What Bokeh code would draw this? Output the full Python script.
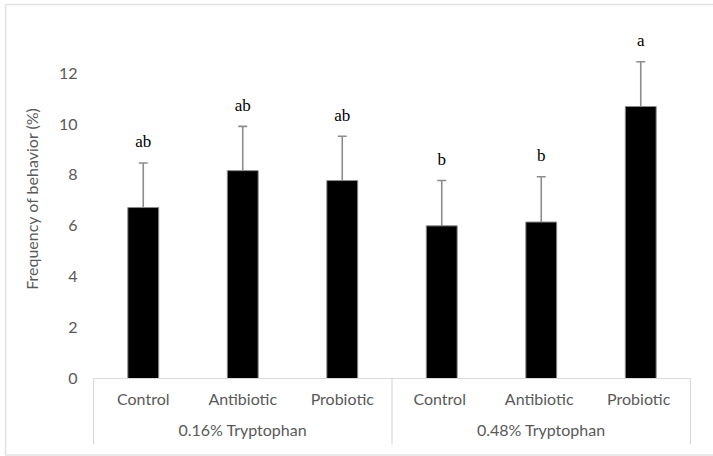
from bokeh.plotting import figure
from bokeh.models import (FactorRange, CategoricalAxis, FixedTicker, Whisker, TeeHead,
                          ColumnDataSource, Range1d)
from bokeh.core.properties import value
from bokeh.embed import file_html
from bokeh.resources import INLINE

# ---- data ----
groups = ["0.16% Tryptophan", "0.48% Tryptophan"]
treatments = ["Control", "Antibiotic", "Probiotic"]
means = [6.72, 8.17, 7.78, 6.00, 6.15, 10.69]
sds = [1.75, 1.74, 1.74, 1.78, 1.78, 1.76]
letters = ["ab", "ab", "ab", "b", "b", "a"]
y_ticks = [0, 2, 4, 6, 8, 10, 12]

# unique factor ids (second group padded with a trailing space)
factors = [t + (" " * gi) for gi, _ in enumerate(groups) for t in treatments]

GRAY_TXT = "#595959"
GRAY_LINE = "#d9d9d9"
FONT = "Lato"

# ---- layout (pixels) ----
W, H = 713, 456
B_LEFT, B_RIGHT, B_TOP, B_BOTTOM = 93, 23, 18, 78
Y_END = 14.15

src = ColumnDataSource(dict(
    x=factors,
    top=means,
    upper=[m + s for m, s in zip(means, sds)],
    label_y=[m + s + 0.83 for m, s in zip(means, sds)],
    letter=letters,
))

p = figure(width=W, height=H, output_backend="svg", toolbar_location=None,
           x_range=FactorRange(factors=factors, range_padding=0, factor_padding=0),
           y_range=Range1d(0, Y_END),
           min_border_left=B_LEFT, min_border_right=B_RIGHT,
           min_border_top=B_TOP, min_border_bottom=B_BOTTOM)
p.extra_x_ranges = {"grp": FactorRange(factors=groups, range_padding=0, factor_padding=0)}

p.outline_line_color = None
p.xgrid.visible = False
p.ygrid.visible = False
p.background_fill_color = "white"
p.border_fill_color = "white"

# pixel -> data helpers for decorations outside the plot frame
n = len(factors)
frame_w = W - B_LEFT - B_RIGHT
frame_h = H - B_TOP - B_BOTTOM
px_x = frame_w / n
px_y = frame_h / Y_END
def dx(px):
    return (px - B_LEFT) / px_x
def dy(py):
    return (H - B_BOTTOM - py) / px_y

# chart-area border (light gray; right edge lies beyond the window)
border = p.quad(left=[dx(5)], right=[dx(716)], top=[dy(4)], bottom=[dy(454.5)],
                fill_color=None, line_color="#e2e2e2", line_width=1.5)
border.level = "overlay"

# bars
p.vbar(x="x", top="top", width=0.31, source=src, fill_color="black",
       line_color="#8a8a8a", line_width=1)

# error bars (upper only)
p.add_layout(Whisker(base="x", lower="top", upper="upper", source=src,
                     line_color="#8c8c8c", line_width=1.6,
                     upper_head=TeeHead(size=9, line_color="#8c8c8c", line_width=1.6),
                     lower_head=None))

# significance letters
p.text(x="x", y="label_y", text="letter", source=src,
       text_font=value("Liberation Serif"), text_font_size="17px",
       text_align="center", text_baseline="alphabetic", text_color="black")

# axis box lines below the plot (left edge, group separator, right edge)
k = len(treatments)
edges = [float(i) for i in range(0, n + 1, k)]
seg = p.segment(x0=edges, x1=edges, y0=[0] * len(edges), y1=[dy(444)] * len(edges),
                line_color=GRAY_LINE, line_width=1.2)
seg.level = "overlay"

# y axis
ya = p.yaxis[0]
ya.ticker = FixedTicker(ticks=y_ticks)
ya.axis_line_color = None
ya.major_tick_line_color = None
ya.minor_tick_line_color = None
ya.major_label_text_font = FONT
ya.major_label_text_font_size = "16px"
ya.major_label_text_color = GRAY_TXT
ya.major_label_standoff = 10
ya.axis_label = "Frequency of behavior (%)"
ya.axis_label_text_font = FONT
ya.axis_label_text_font_size = "16px"
ya.axis_label_text_font_style = "normal"
ya.axis_label_text_color = GRAY_TXT
ya.axis_label_standoff = 15

# x axis (treatments)
xa = p.xaxis[0]
xa.axis_line_color = GRAY_LINE
xa.axis_line_width = 1.2
xa.major_tick_line_color = None
xa.minor_tick_line_color = None
xa.major_label_text_font = FONT
xa.major_label_text_font_size = "16px"
xa.major_label_text_color = GRAY_TXT
xa.major_label_standoff = 4

# second x axis (groups)
ga = CategoricalAxis(x_range_name="grp")
ga.axis_line_color = None
ga.major_tick_line_color = None
ga.minor_tick_line_color = None
ga.major_label_text_font = FONT
ga.major_label_text_font_size = "16px"
ga.major_label_text_color = GRAY_TXT
ga.major_label_standoff = 3
p.add_layout(ga, "below")

open("out.html", "w").write(file_html(p, INLINE))
